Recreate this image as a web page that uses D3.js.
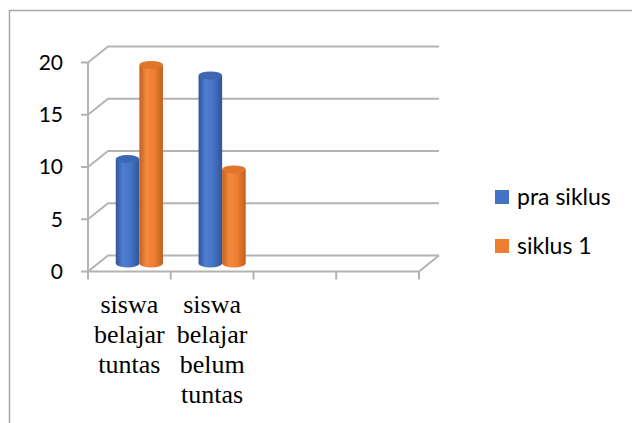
<!DOCTYPE html>
<html>
<head>
<meta charset="utf-8">
<script src="https://cdn.jsdelivr.net/npm/d3@7"></script>
<style>
  html, body { margin: 0; padding: 0; background: #fff; }
  svg { display: block; }
</style>
</head>
<body>
<svg id="chart" width="632" height="423"></svg>
<script>
// Category slots on the axis (the last two are empty)
const categories = ["siswa belajar tuntas", "siswa belajar belum tuntas", "", ""];
const seriesNames = ["pra siklus", "siklus 1"];
const praSiklus = [10, 18];
const siklus1 = [19, 9];
const yTicks = [0, 5, 10, 15, 20];
const seriesColors = ["#4472C4", "#ED7D31"];

const svg = d3.select("#chart");
const W = 632, H = 423;

// chart frame
svg.append("path")
  .attr("d", `M9.5,${H} V10.5 H${W}`)
  .attr("fill", "none").attr("stroke", "#a6a6a6").attr("stroke-width", 1.5);

// front plane of the 3D box
const x0 = 88, x1 = 419;
const depth = { dx: 20, dy: -16 };

const x = d3.scaleBand().domain(d3.range(categories.length)).range([x0, x1]);
const y = d3.scaleLinear().domain([0, 20]).range([271.5, 62.5]);

const gridColor = "#b3b3b3";
const g = svg.append("g");

// back-wall gridlines with the left-wall diagonals
yTicks.forEach(t => {
  const yy = y(t);
  g.append("path")
    .attr("d", `M${x0},${yy} L${x0 + depth.dx},${yy + depth.dy} H${x1 + depth.dx}`)
    .attr("fill", "none").attr("stroke", gridColor).attr("stroke-width", 2);
});
// floor: front edge and right diagonal
g.append("path")
  .attr("d", `M${x0},${y(0)} H${x1} L${x1 + depth.dx},${y(0) + depth.dy}`)
  .attr("fill", "none").attr("stroke", gridColor).attr("stroke-width", 2);
// vertical axis line
g.append("line")
  .attr("x1", x0).attr("x2", x0).attr("y1", y(20)).attr("y2", y(0))
  .attr("stroke", gridColor).attr("stroke-width", 2);
// y tick marks
yTicks.forEach(t => {
  g.append("line").attr("x1", x0 - 7).attr("x2", x0)
    .attr("y1", y(t)).attr("y2", y(t))
    .attr("stroke", gridColor).attr("stroke-width", 2);
});
// x tick marks at category boundaries
d3.range(categories.length + 1).forEach(i => {
  const xx = x0 + i * x.step();
  g.append("line").attr("x1", xx).attr("x2", xx)
    .attr("y1", y(0)).attr("y2", y(0) + 8)
    .attr("stroke", gridColor).attr("stroke-width", 2);
});

// y tick labels
svg.append("g").selectAll("text").data(yTicks).join("text")
  .attr("x", 63).attr("y", d => y(d))
  .attr("dy", "0.35em")
  .attr("text-anchor", "end")
  .attr("font-family", "Lato, 'Open Sans', sans-serif")
  .attr("font-size", 21)
  .attr("fill", "#000")
  .text(d => d);

// gradients for the cylinders
const defs = svg.append("defs");
function cylGrad(id, dark, mid, light) {
  const lg = defs.append("linearGradient").attr("id", id)
    .attr("x1", "0").attr("x2", "1").attr("y1", "0").attr("y2", "0");
  lg.append("stop").attr("offset", "0%").attr("stop-color", dark);
  lg.append("stop").attr("offset", "30%").attr("stop-color", light);
  lg.append("stop").attr("offset", "65%").attr("stop-color", mid);
  lg.append("stop").attr("offset", "100%").attr("stop-color", dark);
}
cylGrad("gBlue", "#2f5597", "#4472C4", "#4f7fd2");
cylGrad("gOrange", "#c0601f", "#ED7D31", "#f5893e");
const topColors = ["#3d67b3", "#e0752c"];
const grads = ["url(#gBlue)", "url(#gOrange)"];

// cylinders sit midway through the depth
const mid = { dx: depth.dx / 2, dy: depth.dy / 2 };
const series = [praSiklus, siklus1];
const groupW = x.step() * 0.57;
const barW = groupW / series.length;
const ry = 4;

const bars = svg.append("g");
series.forEach((vals, s) => {
  vals.forEach((v, i) => {
    const cx = x(i) + x.step() / 2 + mid.dx - groupW / 2 + barW * s;
    const yb = y(0) + mid.dy;
    const yt = y(v) + mid.dy;
    const rx = barW / 2;
    bars.append("path")
      .attr("d", `M${cx},${yt} V${yb} A${rx},${ry} 0 0 0 ${cx + barW},${yb} V${yt} Z`)
      .attr("fill", grads[s]);
    bars.append("ellipse")
      .attr("cx", cx + rx).attr("cy", yt).attr("rx", rx).attr("ry", ry)
      .attr("fill", topColors[s]);
  });
});

// category labels, one word per line
const labels = svg.append("g")
  .attr("font-family", "'Liberation Serif', 'Times New Roman', serif")
  .attr("font-size", 26).attr("fill", "#000").attr("text-anchor", "middle");
categories.forEach((c, i) => {
  if (!c) return;
  const t = labels.append("text")
    .attr("x", x(i) + x.step() / 2).attr("y", 313);
  c.split(" ").forEach((w, k) => {
    t.append("tspan").attr("x", x(i) + x.step() / 2)
      .attr("dy", k === 0 ? 0 : 30).text(w);
  });
});

// legend
const legend = svg.append("g")
  .attr("font-family", "Lato, 'Open Sans', sans-serif")
  .attr("font-size", 23).attr("fill", "#000");
seriesNames.forEach((n, s) => {
  const ly = 197 + s * 49;
  legend.append("rect").attr("x", 495).attr("y", ly - 7)
    .attr("width", 14).attr("height", 14).attr("fill", seriesColors[s]);
  legend.append("text").attr("x", 517).attr("y", ly).attr("dy", "0.35em").text(n);
});
</script>
</body>
</html>
